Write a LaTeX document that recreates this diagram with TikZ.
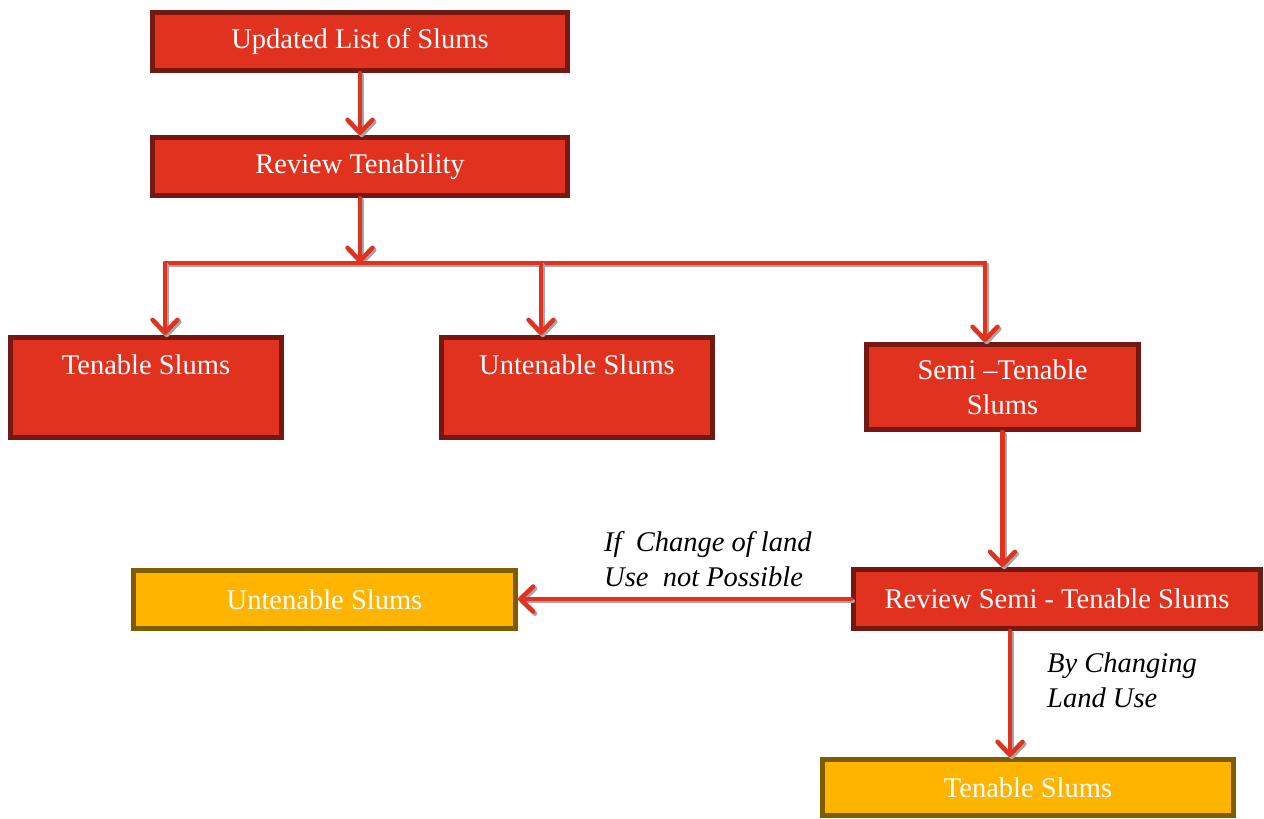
\documentclass[tikz,border=0pt]{standalone}
\usepackage{fontspec}
\setmainfont{Liberation Serif}
\usetikzlibrary{arrows.meta}
\definecolor{boxred}{HTML}{E0321F}
\definecolor{edgered}{HTML}{741912}
\definecolor{boxyel}{HTML}{FFB400}
\definecolor{edgeyel}{HTML}{7F5C00}
\definecolor{shade}{HTML}{A6A6A6}
\tikzset{
  basebox/.style={line width=5pt, text=white, inner sep=0pt, align=center,
    font=\fontsize{28.5}{35}\selectfont, anchor=north west},
  redbox/.style={basebox, draw=edgered, fill=boxred},
  yelbox/.style={basebox, draw=edgeyel, fill=boxyel},
  lbl/.style={font=\fontsize{28.5}{35}\selectfont\itshape, align=left, inner sep=0pt, anchor=north west},
  conn/.style={draw=boxred, line width=4.5pt, line cap=round, line join=round,
    -{Straight Barb[length=13pt,width=25pt,line cap=round,line join=round]}},
  connplain/.style={draw=boxred, line width=4.5pt, line cap=round},
  conns/.style={conn, draw=shade, transform canvas={shift={(1.8pt,-2.2pt)}}},
  connplains/.style={connplain, draw=shade, transform canvas={shift={(1.8pt,-2.2pt)}}},
}
\newcommand\arr[1]{\draw[conns] #1; \draw[conn] #1;}
\newcommand\seg[1]{\draw[connplains] #1; \draw[connplain] #1;}
\begin{document}
\begin{tikzpicture}[x=1pt,y=-1pt]
\useasboundingbox (0,0) rectangle (1264,819);
\node[redbox, minimum width=415pt, minimum height=58pt] (upd) at (150,10) {Updated List of Slums};
\node[redbox, minimum width=415pt, minimum height=58pt] (rev) at (150,135) {Review Tenability};
\node[redbox, minimum width=271pt, text height=37pt, text depth=63pt] (ten) at (8,335) {Tenable Slums};
\node[redbox, minimum width=271pt, text height=37pt, text depth=63pt] (unt) at (439,335) {Untenable Slums};
\node[redbox, minimum width=272pt, minimum height=85pt] (semi) at (864,342) {Semi --Tenable\\Slums};
\node[yelbox, minimum width=382pt, minimum height=58pt] (uy) at (131,568) {Untenable Slums};
\node[redbox, minimum width=407pt, minimum height=59pt] (rss) at (851,567) {Review Semi - Tenable Slums};
\node[yelbox, minimum width=411pt, minimum height=56pt] (ty) at (820,757) {Tenable Slums};

\node[lbl] (l1) at (604,531) {If\ \ Change of land\\Use\ \ not Possible};
\node[lbl] (l2) at (1047,653) {By Changing\\Land Use};

\coordinate (bus) at (rev.south |- 0,263);
\coordinate (busL) at (165,263);
\coordinate (busM) at (541,263);
\coordinate (busR) at (985,263);
\coordinate (tdown) at (1010,631);

\arr{(upd.south) -- (rev.north)}
\arr{(rev.south) -- (bus)}
\seg{(busL) -- (busR)}
\arr{(busL) -- (busL |- ten.north)}
\arr{(busM) -- (busM |- unt.north)}
\arr{(busR) -- (busR |- semi.north)}
\arr{(semi.south) -- (semi.south |- rss.north)}
\arr{(rss.west) -- (rss.west -| uy.east)}
\arr{(tdown) -- (tdown |- ty.north)}
\end{tikzpicture}
\end{document}
